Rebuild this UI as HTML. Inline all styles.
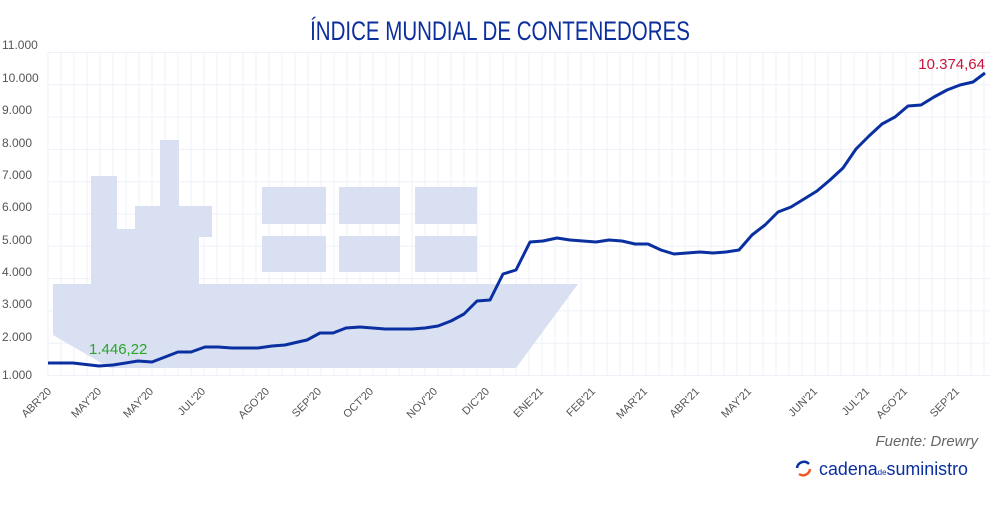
<!DOCTYPE html>
<html><head><meta charset="utf-8"><style>
body{margin:0;background:#fff;width:1000px;height:500px;overflow:hidden;font-family:"Liberation Sans",sans-serif}
</style></head><body>
<svg width="1000" height="500" viewBox="0 0 1000 500" xmlns="http://www.w3.org/2000/svg" font-family="Liberation Sans, sans-serif">
<text x="500" y="40" text-anchor="middle" font-size="27" fill="#0d2f9e" transform="translate(500,0) scale(0.76,1) translate(-500,0)">ÍNDICE MUNDIAL DE CONTENEDORES</text>
<g stroke="#eef0f7" stroke-width="1">
<line x1="48" x2="990" y1="52.5" y2="52.5"/><line x1="48" x2="990" y1="84.8" y2="84.8"/><line x1="48" x2="990" y1="117.1" y2="117.1"/><line x1="48" x2="990" y1="149.4" y2="149.4"/><line x1="48" x2="990" y1="181.7" y2="181.7"/><line x1="48" x2="990" y1="214" y2="214"/><line x1="48" x2="990" y1="246.3" y2="246.3"/><line x1="48" x2="990" y1="278.6" y2="278.6"/><line x1="48" x2="990" y1="310.9" y2="310.9"/><line x1="48" x2="990" y1="343.2" y2="343.2"/><line x1="48" x2="990" y1="375.5" y2="375.5"/>
</g>
<g id="vg" stroke="#eef0f7" stroke-width="1"></g>
<g font-size="12" fill="#555">
<text x="2" y="49">11.000</text><text x="2" y="82">10.000</text><text x="2" y="114">9.000</text><text x="2" y="147">8.000</text><text x="2" y="179">7.000</text><text x="2" y="211">6.000</text><text x="2" y="244">5.000</text><text x="2" y="276">4.000</text><text x="2" y="308">3.000</text><text x="2" y="341">2.000</text><text x="2" y="379">1.000</text>
</g>
<g fill="#d9e0f1">
<polygon points="53,284 91,284 91,176 117,176 117,229 135,229 135,206 160,206 160,140 179,140 179,206 212,206 212,237 199,237 199,284 578,284 516,368 110,368 53,335"/>
<rect x="262" y="187" width="64" height="37"/><rect x="339" y="187" width="61" height="37"/><rect x="415" y="187" width="62" height="37"/>
<rect x="262" y="236" width="64" height="36"/><rect x="339" y="236" width="61" height="36"/><rect x="415" y="236" width="62" height="36"/>
</g>
<polyline fill="none" stroke="#0a2fa0" stroke-width="3" stroke-linejoin="round" points="48,363 73,363 99,366 113,365 138,361 152,362 178,352 191,352 205,347 218,347 232,348 258,348 272,346 285,345 298,342 307,340 320,333 333,333 346,328 360,327 385,329 412,329 425,328 438,326 451,321 464,314 477,301 490,300 503,274 516,270 530,242 543,241 557,238 570,240 583,241 596,242 609,240 622,241 635,244 648,244 661,250 674,254 687,253 700,252 713,253 726,252 739,250 752,235 765,225 778,212 791,207 804,199 817,191 830,180 843,168 856,149 869,136 882,124 895,117 908,106 921,105 934,97 947,90 960,85 973,82 985,73"/>
<text x="89" y="354" font-size="15" fill="#2aa52a">1.446,22</text>
<text x="985" y="69" font-size="15" fill="#c8143c" text-anchor="end">10.374,64</text>
<g font-size="11" fill="#555" text-anchor="end">
<text transform="translate(52,392) rotate(-45)">ABR'20</text>
<text transform="translate(102,392) rotate(-45)">MAY'20</text>
<text transform="translate(154,392) rotate(-45)">MAY'20</text>
<text transform="translate(206,392) rotate(-45)">JUL'20</text>
<text transform="translate(270,392) rotate(-45)">AGO'20</text>
<text transform="translate(322,392) rotate(-45)">SEP'20</text>
<text transform="translate(374,392) rotate(-45)">OCT'20</text>
<text transform="translate(438,392) rotate(-45)">NOV'20</text>
<text transform="translate(490,392) rotate(-45)">DIC'20</text>
<text transform="translate(544,392) rotate(-45)">ENE'21</text>
<text transform="translate(596,392) rotate(-45)">FEB'21</text>
<text transform="translate(648,392) rotate(-45)">MAR'21</text>
<text transform="translate(700,392) rotate(-45)">ABR'21</text>
<text transform="translate(752,392) rotate(-45)">MAY'21</text>
<text transform="translate(818,392) rotate(-45)">JUN'21</text>
<text transform="translate(870,392) rotate(-45)">JUL'21</text>
<text transform="translate(908,392) rotate(-45)">AGO'21</text>
<text transform="translate(960,392) rotate(-45)">SEP'21</text>
</g>
<text x="978" y="446" font-size="15" font-style="italic" fill="#666" text-anchor="end">Fuente: Drewry</text>
<path d="M797,468 a7,7 0 0 1 12,-4" stroke="#0a2fa0" stroke-width="2.5" fill="none"/>
<path d="M799,474 a7,7 0 0 0 11,-5" stroke="#f05a22" stroke-width="2.5" fill="none"/>
<text x="819" y="475" font-size="18" fill="#0a2fa0" textLength="149" lengthAdjust="spacingAndGlyphs">cadena<tspan font-size="8">de</tspan>suministro</text>
</svg>
<script>
var g=document.getElementById('vg'),s='';for(var i=0;i<73;i++){var x=48+i*13;s+='<line x1="'+x+'" x2="'+x+'" y1="52" y2="376"/>';}g.innerHTML=s;
</script>
</body></html>
